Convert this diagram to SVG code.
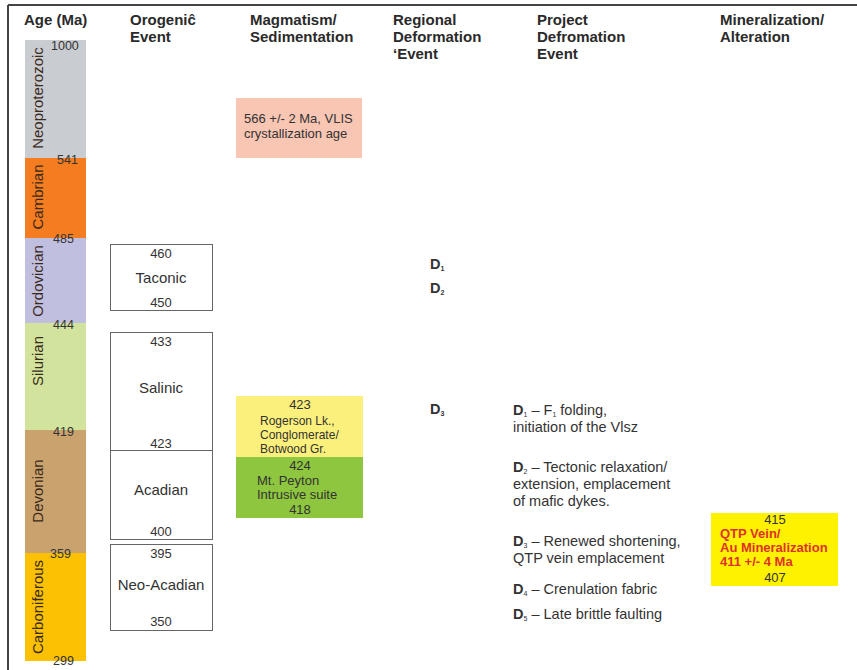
<svg xmlns="http://www.w3.org/2000/svg" width="857" height="670" viewBox="0 0 857 670">
<style>
text{font-family:"Liberation Sans",Arial,sans-serif;fill:#222}
.h{font-size:15px;font-weight:bold;fill:#2a2a2a}
.per{font-size:15px;fill:#3a2a1a;text-anchor:middle}
.age{font-size:12.5px;fill:#333}
.ob{fill:#fff;stroke:#666;stroke-width:1}
.on{font-size:13px;text-anchor:middle;fill:#333}
.ol{font-size:15px;text-anchor:middle;fill:#333}
.m{font-size:13px;fill:#333}
.ms{font-size:12px;fill:#333}
.d{font-size:14.5px;fill:#333}
.b{font-weight:bold}
.r{font-size:13px;font-weight:bold;fill:#e0302a}
</style>
<rect width="857" height="670" fill="#fff"/>
<g id="frame" fill="none" stroke="#444" stroke-width="2">
<line x1="8" y1="5" x2="857" y2="5"/>
<line x1="8" y1="5" x2="8" y2="670"/>
</g>
<g id="headers">
<text class="h" x="24" y="25">Age (Ma)</text>
<text class="h" x="130" y="25">Orogeniĉ</text>
<text class="h" x="130" y="42">Event</text>
<text class="h" x="250" y="25">Magmatism/</text>
<text class="h" x="250" y="42">Sedimentation</text>
<text class="h" x="393" y="25">Regional</text>
<text class="h" x="393" y="42">Deformation</text>
<text class="h" x="393" y="59">‘Event</text>
<text class="h" x="537" y="25">Project</text>
<text class="h" x="537" y="42">Defromation</text>
<text class="h" x="537" y="59">Event</text>
<text class="h" x="720" y="25">Mineralization/</text>
<text class="h" x="720" y="42">Alteration</text>
</g>
<g id="column">
<rect x="25" y="40" width="61" height="118" fill="#c9ccd0"/>
<rect x="25" y="158" width="61" height="80" fill="#f47c21"/>
<rect x="25" y="238" width="61" height="85" fill="#c1bfe0"/>
<rect x="25" y="323" width="61" height="107" fill="#d1e39c"/>
<rect x="25" y="430" width="61" height="123" fill="#c9a26e"/>
<rect x="25" y="553" width="61" height="108" fill="#fbc102"/>
<text class="per" transform="translate(43,98) rotate(-90)">Neoproterozoic</text>
<text class="per" transform="translate(43,197) rotate(-90)">Cambrian</text>
<text class="per" transform="translate(43,281) rotate(-90)">Ordovician</text>
<text class="per" transform="translate(43,361) rotate(-90)">Silurian</text>
<text class="per" transform="translate(43,491) rotate(-90)">Devonian</text>
<text class="per" transform="translate(43,607) rotate(-90)">Carboniferous</text>
<text class="age" x="51" y="50">1000</text>
<text class="age" x="57" y="164">541</text>
<text class="age" x="53" y="243">485</text>
<text class="age" x="53" y="329">444</text>
<text class="age" x="53" y="436">419</text>
<text class="age" x="50" y="558">359</text>
<text class="age" x="53" y="665">299</text>
</g>
<g id="taconic">
<rect class="ob" x="110.5" y="244.5" width="102" height="66"/>
<text class="on" x="161" y="258">460</text>
<text class="ol" x="161" y="283">Taconic</text>
<text class="on" x="161" y="307">450</text>
</g>
<g id="salinic">
<rect class="ob" x="110.5" y="332.5" width="102" height="118"/>
<text class="on" x="161" y="346">433</text>
<text class="ol" x="161" y="393">Salinic</text>
<text class="on" x="161" y="448">423</text>
</g>
<g id="acadian">
<rect class="ob" x="110.5" y="450.5" width="102" height="89"/>
<text class="ol" x="161" y="495">Acadian</text>
<text class="on" x="161" y="536">400</text>
</g>
<g id="neoacadian">
<rect class="ob" x="110.5" y="544.5" width="102" height="86"/>
<text class="on" x="161" y="558">395</text>
<text class="ol" x="161" y="590">Neo-Acadian</text>
<text class="on" x="161" y="626">350</text>
</g>
<g id="vlis">
<rect x="236" y="98" width="126" height="60" fill="#f9c6b4"/>
<text class="m" x="244" y="123">566 +/- 2 Ma, VLIS</text>
<text class="m" x="244" y="138">crystallization age</text>
</g>
<g id="rogerson">
<rect x="236" y="396" width="127" height="61" fill="#fcf07d"/>
<text class="on" x="300" y="409">423</text>
<text class="ms" x="260" y="425">Rogerson Lk.,</text>
<text class="ms" x="260" y="439">Conglomerate/</text>
<text class="ms" x="260" y="453">Botwood Gr.</text>
</g>
<g id="peyton">
<rect x="236" y="457" width="127" height="61" fill="#8ec63f"/>
<text class="on" x="300" y="470">424</text>
<text class="m" x="257" y="485">Mt. Peyton</text>
<text class="m" x="257" y="499">Intrusive suite</text>
<text class="on" x="300" y="514">418</text>
</g>
<g id="regional">
<text class="d b" x="430" y="269">D<tspan font-size="7" dy="2">1</tspan></text>
<text class="d b" x="430" y="293">D<tspan font-size="7" dy="2">2</tspan></text>
<text class="d b" x="430" y="414">D<tspan font-size="7" dy="2">3</tspan></text>
</g>
<g id="project">
<text class="d" x="513" y="415"><tspan font-weight="bold">D</tspan><tspan font-size="7" dy="2">1</tspan><tspan dy="-2"> – F</tspan><tspan font-size="7" dy="2">1</tspan><tspan dy="-2"> folding,</tspan></text>
<text class="d" x="513" y="432">initiation of the Vlsz</text>
<text class="d" x="513" y="472"><tspan font-weight="bold">D</tspan><tspan font-size="7" dy="2">2</tspan><tspan dy="-2"> – Tectonic relaxation/</tspan></text>
<text class="d" x="513" y="489">extension, emplacement</text>
<text class="d" x="513" y="506">of mafic dykes.</text>
<text class="d" x="513" y="546"><tspan font-weight="bold">D</tspan><tspan font-size="7" dy="2">3</tspan><tspan dy="-2"> – Renewed shortening,</tspan></text>
<text class="d" x="513" y="563">QTP vein emplacement</text>
<text class="d" x="513" y="594"><tspan font-weight="bold">D</tspan><tspan font-size="7" dy="2">4</tspan><tspan dy="-2"> –  Crenulation fabric</tspan></text>
<text class="d" x="513" y="619"><tspan font-weight="bold">D</tspan><tspan font-size="7" dy="2">5</tspan><tspan dy="-2"> –  Late brittle faulting</tspan></text>
</g>
<g id="qtp">
<rect x="711" y="513" width="127" height="73" fill="#fff200"/>
<text class="on" x="775" y="524">415</text>
<text class="r" x="720" y="538">QTP Vein/</text>
<text class="r" x="720" y="552">Au Mineralization</text>
<text class="r" x="720" y="566">411 +/- 4 Ma</text>
<text class="on" x="775" y="582">407</text>
</g>
</svg>
